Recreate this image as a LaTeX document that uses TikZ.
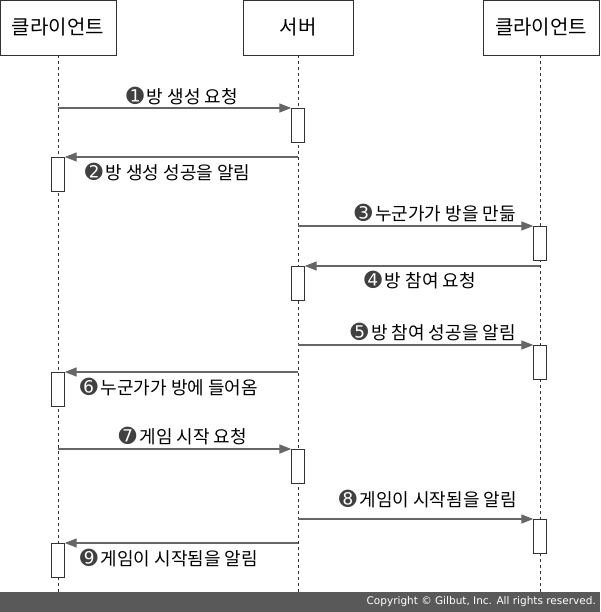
\documentclass[tikz,border=0pt]{standalone}
\usepackage{fontspec}
\setmainfont{Noto Sans CJK KR}
\newfontfamily\dingfont{DejaVu Sans}
\usetikzlibrary{arrows.meta}
\newcommand{\num}[1]{{\dingfont\fontsize{21}{22}\selectfont\color{black!75}#1}\hspace{3pt}}
\begin{document}
\begin{tikzpicture}[x=1pt,y=-1pt,
  hdr/.style={draw=black!80,minimum width=116pt,minimum height=55pt,font=\fontsize{20}{22}\selectfont,inner sep=0pt},
  act/.style={draw=black!80,fill=white,minimum width=13pt,minimum height=34pt,inner sep=0pt,anchor=north},
  life/.style={dashed,black!80,thick},
  msg/.style={draw=black!60,line width=1.3pt,-{Triangle[length=12pt,width=9pt]}},
  lbl/.style={font=\fontsize{18}{20}\selectfont,inner sep=0pt}]
\useasboundingbox (0,0) rectangle (600,612);
\node[hdr] (c1) at (58,27.5) {클라이언트};
\node[hdr,minimum width=110pt] (s) at (298,27.5) {서버};
\node[hdr] (c2) at (541,27.5) {클라이언트};
\coordinate (e1) at (58,595); \coordinate (e2) at (298,595); \coordinate (e3) at (540,595);
\draw[life] (c1.south) -- (e1);
\draw[life] (s.south) -- (e2);
\draw[life] (c2.south)++(-1,0) -- (e3);
% activation boxes
\node[act] (a1) at (298,108) {};
\node[act] (a2) at (58,157) {};
\node[act] (a3) at (540,226) {};
\node[act] (a4) at (298,266) {};
\node[act] (a5) at (540,345) {};
\node[act] (a6) at (58,372) {};
\node[act] (a7) at (298,449) {};
\node[act] (a8) at (540,519) {};
\node[act] (a9) at (58,543) {};
% messages
\coordinate (m1) at (58,108); \draw[msg] (m1) -- (a1.north west);
\node[lbl] (l1) at (182,96) {\num{➊}방 생성 요청};
\coordinate (m2) at (298,157); \draw[msg] (m2) -- (a2.north east);
\node[lbl,anchor=west] (l2) at (85,172) {\num{➋}방 생성 성공을 알림};
\coordinate (m3) at (298,226); \draw[msg] (m3) -- (a3.north west);
\node[lbl,anchor=east] (l3) at (516,213) {\num{➌}누군가가 방을 만듦};
\coordinate (m4) at (540,266); \draw[msg] (m4) -- (a4.north east);
\node[lbl] (l4) at (420,280) {\num{➍}방 참여 요청};
\coordinate (m5) at (298,345); \draw[msg] (m5) -- (a5.north west);
\node[lbl,anchor=east] (l5) at (516,332) {\num{➎}방 참여 성공을 알림};
\coordinate (m6) at (298,372); \draw[msg] (m6) -- (a6.north east);
\node[lbl,anchor=west] (l6) at (80,387) {\num{➏}누군가가 방에 들어옴};
\coordinate (m7) at (58,449); \draw[msg] (m7) -- (a7.north west);
\node[lbl] (l7) at (183,436) {\num{➐}게임 시작 요청};
\coordinate (m8) at (298,519); \draw[msg] (m8) -- (a8.north west);
\node[lbl,anchor=east] (l8) at (517,499) {\num{➑}게임이 시작됨을 알림};
\coordinate (m9) at (298,543); \draw[msg] (m9) -- (a9.north east);
\node[lbl,anchor=west] (l9) at (80,558) {\num{➒}게임이 시작됨을 알림};
% footer
\fill[black!65] (0,592) rectangle (600,612);
\node[font=\fontsize{10.5}{12}\selectfont\dingfont,text=white,anchor=east,inner sep=0pt] (cp) at (596,602) {Copyright © Gilbut, Inc. All rights reserved.};
\end{tikzpicture}
\end{document}
